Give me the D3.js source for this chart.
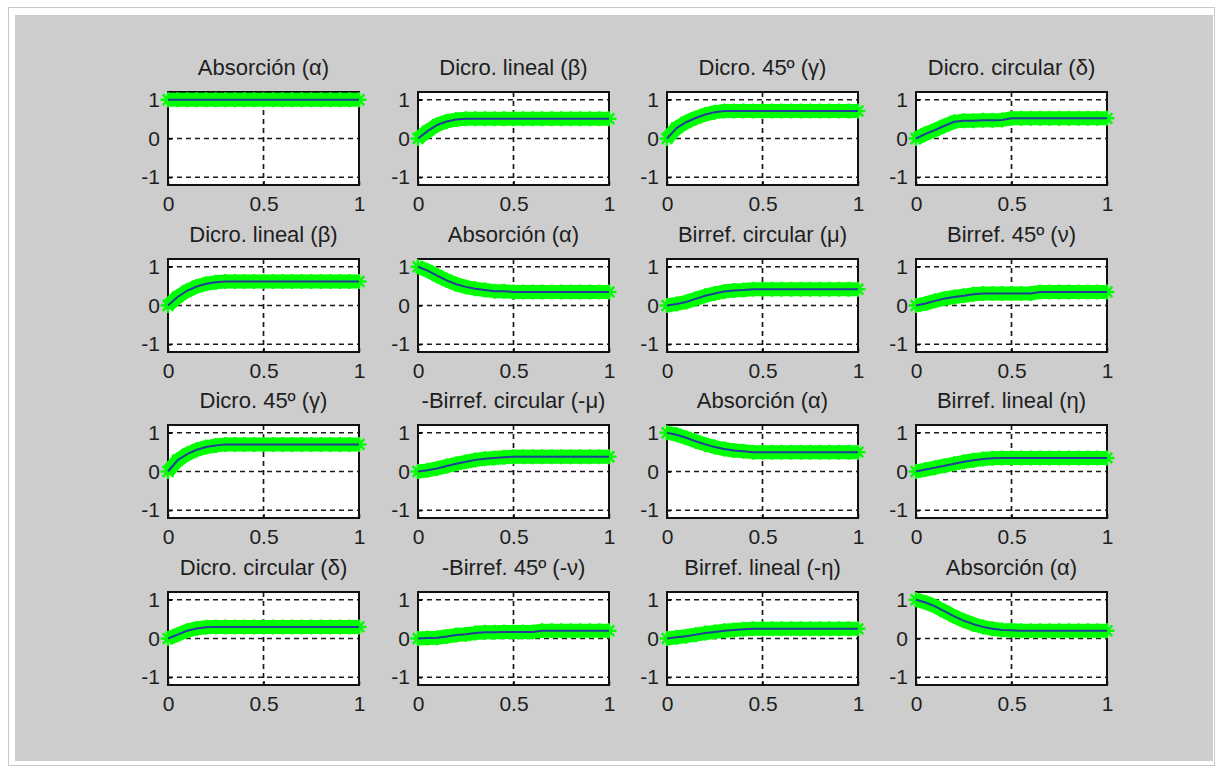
<!DOCTYPE html>
<html>
<head>
<meta charset="utf-8">
<script src="https://cdn.jsdelivr.net/npm/d3@7"></script>
<style>
  html, body { margin: 0; padding: 0; background: #ffffff; }
  svg { display: block; }
  text { font-family: "Liberation Sans", Arial, sans-serif; }
</style>
</head>
<body>
<div id="chart"></div>
<script>
// x samples shared by every subplot
const xs = [0, 0.05, 0.1, 0.15, 0.2, 0.25, 0.3, 0.35, 0.4, 0.45, 0.5,
            0.55, 0.6, 0.65, 0.7, 0.75, 0.8, 0.85, 0.9, 0.95, 1];

const xTicks = [0, 0.5, 1];
const yTicks = [-1, 0, 1];
const xTickLabels = ["0", "0.5", "1"];
const yTickLabels = ["-1", "0", "1"];

const titles = [
  "Absorción (α)", "Dicro. lineal (β)", "Dicro. 45º (γ)", "Dicro. circular (δ)",
  "Dicro. lineal (β)", "Absorción (α)", "Birref. circular (μ)", "Birref. 45º (ν)",
  "Dicro. 45º (γ)", "-Birref. circular (-μ)", "Absorción (α)", "Birref. lineal (η)",
  "Dicro. circular (δ)", "-Birref. 45º (-ν)", "Birref. lineal (-η)", "Absorción (α)"
];

// row 1
const r1Absorcion   = [1, 1, 1, 1, 1, 1, 1, 1, 1, 1, 1, 1, 1, 1, 1, 1, 1, 1, 1, 1, 1];
const r1DicroLineal = [0, 0.19, 0.35, 0.44, 0.49, 0.51, 0.51, 0.51, 0.51, 0.51, 0.51, 0.51, 0.51, 0.51, 0.51, 0.51, 0.51, 0.51, 0.51, 0.51, 0.51];
const r1Dicro45     = [0, 0.27, 0.42, 0.53, 0.62, 0.68, 0.71, 0.71, 0.71, 0.71, 0.71, 0.71, 0.71, 0.71, 0.71, 0.71, 0.71, 0.71, 0.71, 0.71, 0.71];
const r1DicroCirc   = [0, 0.12, 0.22, 0.33, 0.43, 0.46, 0.46, 0.47, 0.47, 0.48, 0.52, 0.52, 0.52, 0.52, 0.52, 0.52, 0.52, 0.52, 0.52, 0.52, 0.52];
// row 2
const r2DicroLineal = [0, 0.22, 0.38, 0.49, 0.56, 0.6, 0.62, 0.62, 0.62, 0.62, 0.62, 0.62, 0.62, 0.62, 0.62, 0.62, 0.62, 0.62, 0.62, 0.62, 0.62];
const r2Absorcion   = [1, 0.9, 0.77, 0.65, 0.55, 0.48, 0.43, 0.4, 0.37, 0.37, 0.35, 0.35, 0.35, 0.35, 0.35, 0.35, 0.35, 0.35, 0.35, 0.35, 0.35];
const r2BirrefCirc  = [0, 0.04, 0.09, 0.17, 0.25, 0.31, 0.36, 0.39, 0.4, 0.42, 0.42, 0.42, 0.42, 0.42, 0.42, 0.42, 0.42, 0.42, 0.42, 0.42, 0.42];
const r2Birref45    = [0, 0.05, 0.12, 0.18, 0.22, 0.25, 0.29, 0.31, 0.31, 0.31, 0.31, 0.31, 0.31, 0.35, 0.35, 0.35, 0.35, 0.35, 0.35, 0.35, 0.35];
// row 3
const r3Dicro45     = [0, 0.29, 0.45, 0.56, 0.63, 0.67, 0.7, 0.7, 0.7, 0.7, 0.7, 0.7, 0.7, 0.7, 0.7, 0.7, 0.7, 0.7, 0.7, 0.7, 0.7];
const r3MBirrefCirc = [0, 0.03, 0.08, 0.14, 0.2, 0.25, 0.3, 0.33, 0.35, 0.37, 0.38, 0.38, 0.38, 0.38, 0.38, 0.38, 0.38, 0.38, 0.38, 0.38, 0.38];
const r3Absorcion   = [1, 0.95, 0.87, 0.78, 0.7, 0.63, 0.58, 0.54, 0.52, 0.5, 0.5, 0.5, 0.5, 0.5, 0.5, 0.5, 0.5, 0.5, 0.5, 0.5, 0.5];
const r3BirrefLin   = [0, 0.05, 0.1, 0.15, 0.2, 0.25, 0.29, 0.32, 0.34, 0.35, 0.35, 0.35, 0.35, 0.35, 0.35, 0.35, 0.35, 0.35, 0.35, 0.35, 0.35];
// row 4
const r4DicroCirc   = [0, 0.1, 0.2, 0.26, 0.29, 0.3, 0.3, 0.3, 0.3, 0.3, 0.3, 0.3, 0.3, 0.3, 0.3, 0.3, 0.3, 0.3, 0.3, 0.3, 0.3];
const r4MBirref45   = [0, 0.01, 0.02, 0.05, 0.09, 0.11, 0.14, 0.16, 0.16, 0.17, 0.17, 0.17, 0.17, 0.2, 0.2, 0.2, 0.2, 0.2, 0.2, 0.2, 0.2];
const r4MBirrefLin  = [0, 0.03, 0.06, 0.1, 0.14, 0.17, 0.2, 0.22, 0.24, 0.25, 0.25, 0.25, 0.25, 0.25, 0.25, 0.25, 0.25, 0.25, 0.25, 0.25, 0.25];
const r4Absorcion   = [1, 0.93, 0.83, 0.7, 0.57, 0.46, 0.37, 0.3, 0.25, 0.22, 0.21, 0.2, 0.2, 0.2, 0.2, 0.2, 0.2, 0.2, 0.2, 0.2, 0.2];

const series = [
  r1Absorcion, r1DicroLineal, r1Dicro45, r1DicroCirc,
  r2DicroLineal, r2Absorcion, r2BirrefCirc, r2Birref45,
  r3Dicro45, r3MBirrefCirc, r3Absorcion, r3BirrefLin,
  r4DicroCirc, r4MBirref45, r4MBirrefLin, r4Absorcion
];

// figure layout
const W = 1221, H = 768;
const colLeft = [168, 418, 667, 916];
const rowTop = [92, 259, 425, 592];
const plotW = 191, plotH = 93;

const svg = d3.select("#chart").append("svg")
  .attr("width", W)
  .attr("height", H);

// window frame + grey figure background
svg.append("rect")
  .attr("x", 8.5).attr("y", 7.5)
  .attr("width", 1206).attr("height", 758)
  .attr("fill", "#ffffff")
  .attr("stroke", "#c9c9c9");
svg.append("rect")
  .attr("x", 15).attr("y", 15)
  .attr("width", 1198).attr("height", 746)
  .attr("fill", "#cdcdcd");

const x = d3.scaleLinear().domain([0, 1]).range([0, plotW]);
const y = d3.scaleLinear().domain([-1.2, 1.2]).range([plotH, 0]);

const line = d3.line()
  .x((d, i) => x(xs[i]))
  .y(d => y(d));

// matlab style '*' marker
function asterisk(cx, cy, r) {
  const d = r * 0.7071;
  return `M${cx - r},${cy}L${cx + r},${cy}M${cx},${cy - r}L${cx},${cy + r}` +
         `M${cx - d},${cy - d}L${cx + d},${cy + d}M${cx - d},${cy + d}L${cx + d},${cy - d}`;
}

series.forEach((values, k) => {
  const row = Math.floor(k / 4), col = k % 4;
  const g = svg.append("g")
    .attr("transform", `translate(${colLeft[col]},${rowTop[row]})`);

  g.append("rect")
    .attr("width", plotW).attr("height", plotH)
    .attr("fill", "#ffffff");

  // dashed grid
  g.selectAll(".gy").data(yTicks).enter().append("line")
    .attr("x1", 0).attr("x2", plotW)
    .attr("y1", d => y(d)).attr("y2", d => y(d))
    .attr("stroke", "#1a1a1a").attr("stroke-width", 1.7)
    .attr("stroke-dasharray", "5,4");
  g.selectAll(".gx").data(xTicks.filter(d => d > 0 && d < 1)).enter().append("line")
    .attr("y1", 0).attr("y2", plotH)
    .attr("x1", d => x(d)).attr("x2", d => x(d))
    .attr("stroke", "#1a1a1a").attr("stroke-width", 1.7)
    .attr("stroke-dasharray", "5,4");

  // axes
  const ax = g.append("g")
    .attr("transform", `translate(0,${plotH})`)
    .call(d3.axisBottom(x).tickValues(xTicks)
      .tickFormat((d, i) => xTickLabels[i])
      .tickSize(-4).tickPadding(11));
  const ay = g.append("g")
    .call(d3.axisLeft(y).tickValues(yTicks)
      .tickFormat((d, i) => yTickLabels[i])
      .tickSize(-4).tickPadding(8));
  [ax, ay].forEach(a => {
    a.select(".domain").remove();
    a.selectAll("line").attr("stroke", "#000").attr("stroke-width", 1.5);
    a.selectAll("text")
      .attr("fill", "#1e1e1e")
      .style("font-size", "21px")
      .style("font-family", "'Liberation Sans', Arial, sans-serif");
  });

  g.append("rect")
    .attr("width", plotW).attr("height", plotH)
    .attr("fill", "none")
    .attr("stroke", "#111").attr("stroke-width", 2);

  // green band with markers
  g.append("path")
    .datum(values)
    .attr("d", line)
    .attr("fill", "none")
    .attr("stroke", "#00ff00")
    .attr("stroke-width", 14)
    .attr("stroke-linejoin", "round");
  g.append("path")
    .attr("d", values.map((v, i) => asterisk(x(xs[i]), y(v), 7.5)).join(""))
    .attr("fill", "none")
    .attr("stroke", "#00ff00")
    .attr("stroke-width", 2.5);

  // blue line on top
  g.append("path")
    .datum(values)
    .attr("d", line)
    .attr("fill", "none")
    .attr("stroke", "#1f3f99")
    .attr("stroke-width", 2);

  g.append("text")
    .attr("x", plotW / 2)
    .attr("y", -17)
    .attr("text-anchor", "middle")
    .attr("fill", "#1e1e1e")
    .style("font-size", "22px")
    .text(titles[k]);
});
</script>
</body>
</html>
